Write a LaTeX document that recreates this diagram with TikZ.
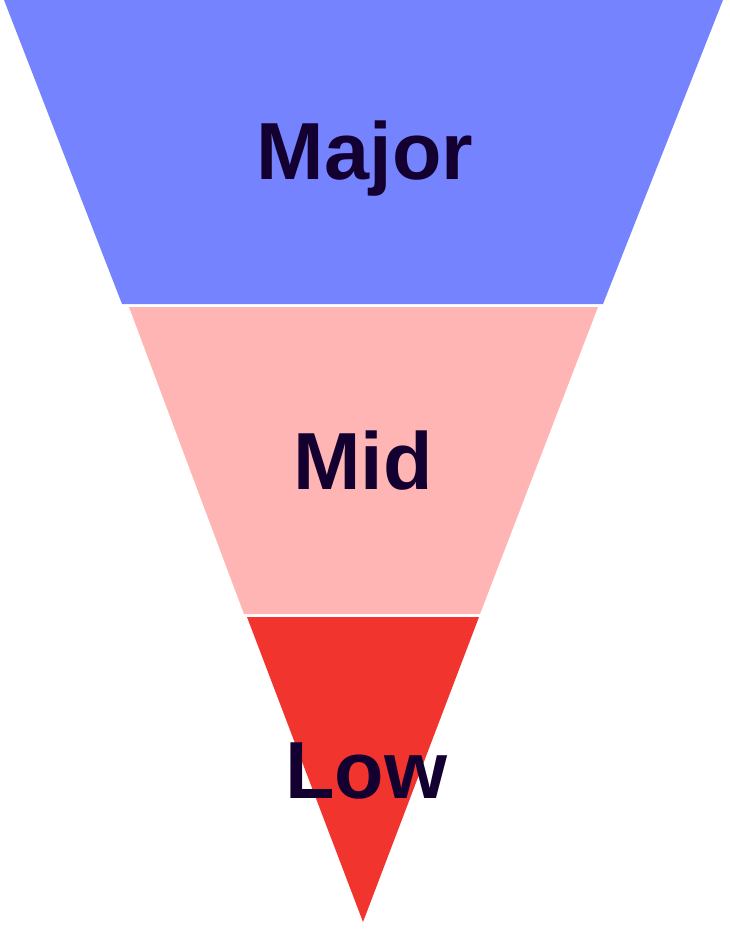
\documentclass[tikz,border=0pt]{standalone}
\usepackage{fontspec}
\setmainfont{Liberation Sans}
\usepackage{tikz}
\usetikzlibrary{positioning,calc}
\definecolor{bandblue}{HTML}{7583FF}
\definecolor{bandpink}{HTML}{FFB5B4}
\definecolor{bandred}{HTML}{F2342F}
\definecolor{labelink}{HTML}{140030}

\begin{document}
\begin{tikzpicture}[x=1pt, y=-1pt,
        band/.style={draw=none},
        label/.style={anchor=base, inner sep=0pt, text=labelink,
                      font=\fontsize{81}{81}\selectfont\bfseries},
      ]
        \useasboundingbox (0,0) rectangle (730,929);
        % Major
        \fill[band, bandblue] (4,0) -- (723,0) -- (603,304) -- (122,304) -- cycle;
        % Mid
        \fill[band, bandpink] (129,307) -- (598,307) -- (480,614) -- (244,614) -- cycle;
        % Low
        \fill[band, bandred] (247,617) -- (479,617) -- (363,922) -- cycle;
        % labels
        \node[label] (major) at (365,179) {Major};
        \node[label] (mid) at (363,489) {Mid};
        \node[label] (low) at (366,798) {Low};
      \end{tikzpicture}
\end{document}
